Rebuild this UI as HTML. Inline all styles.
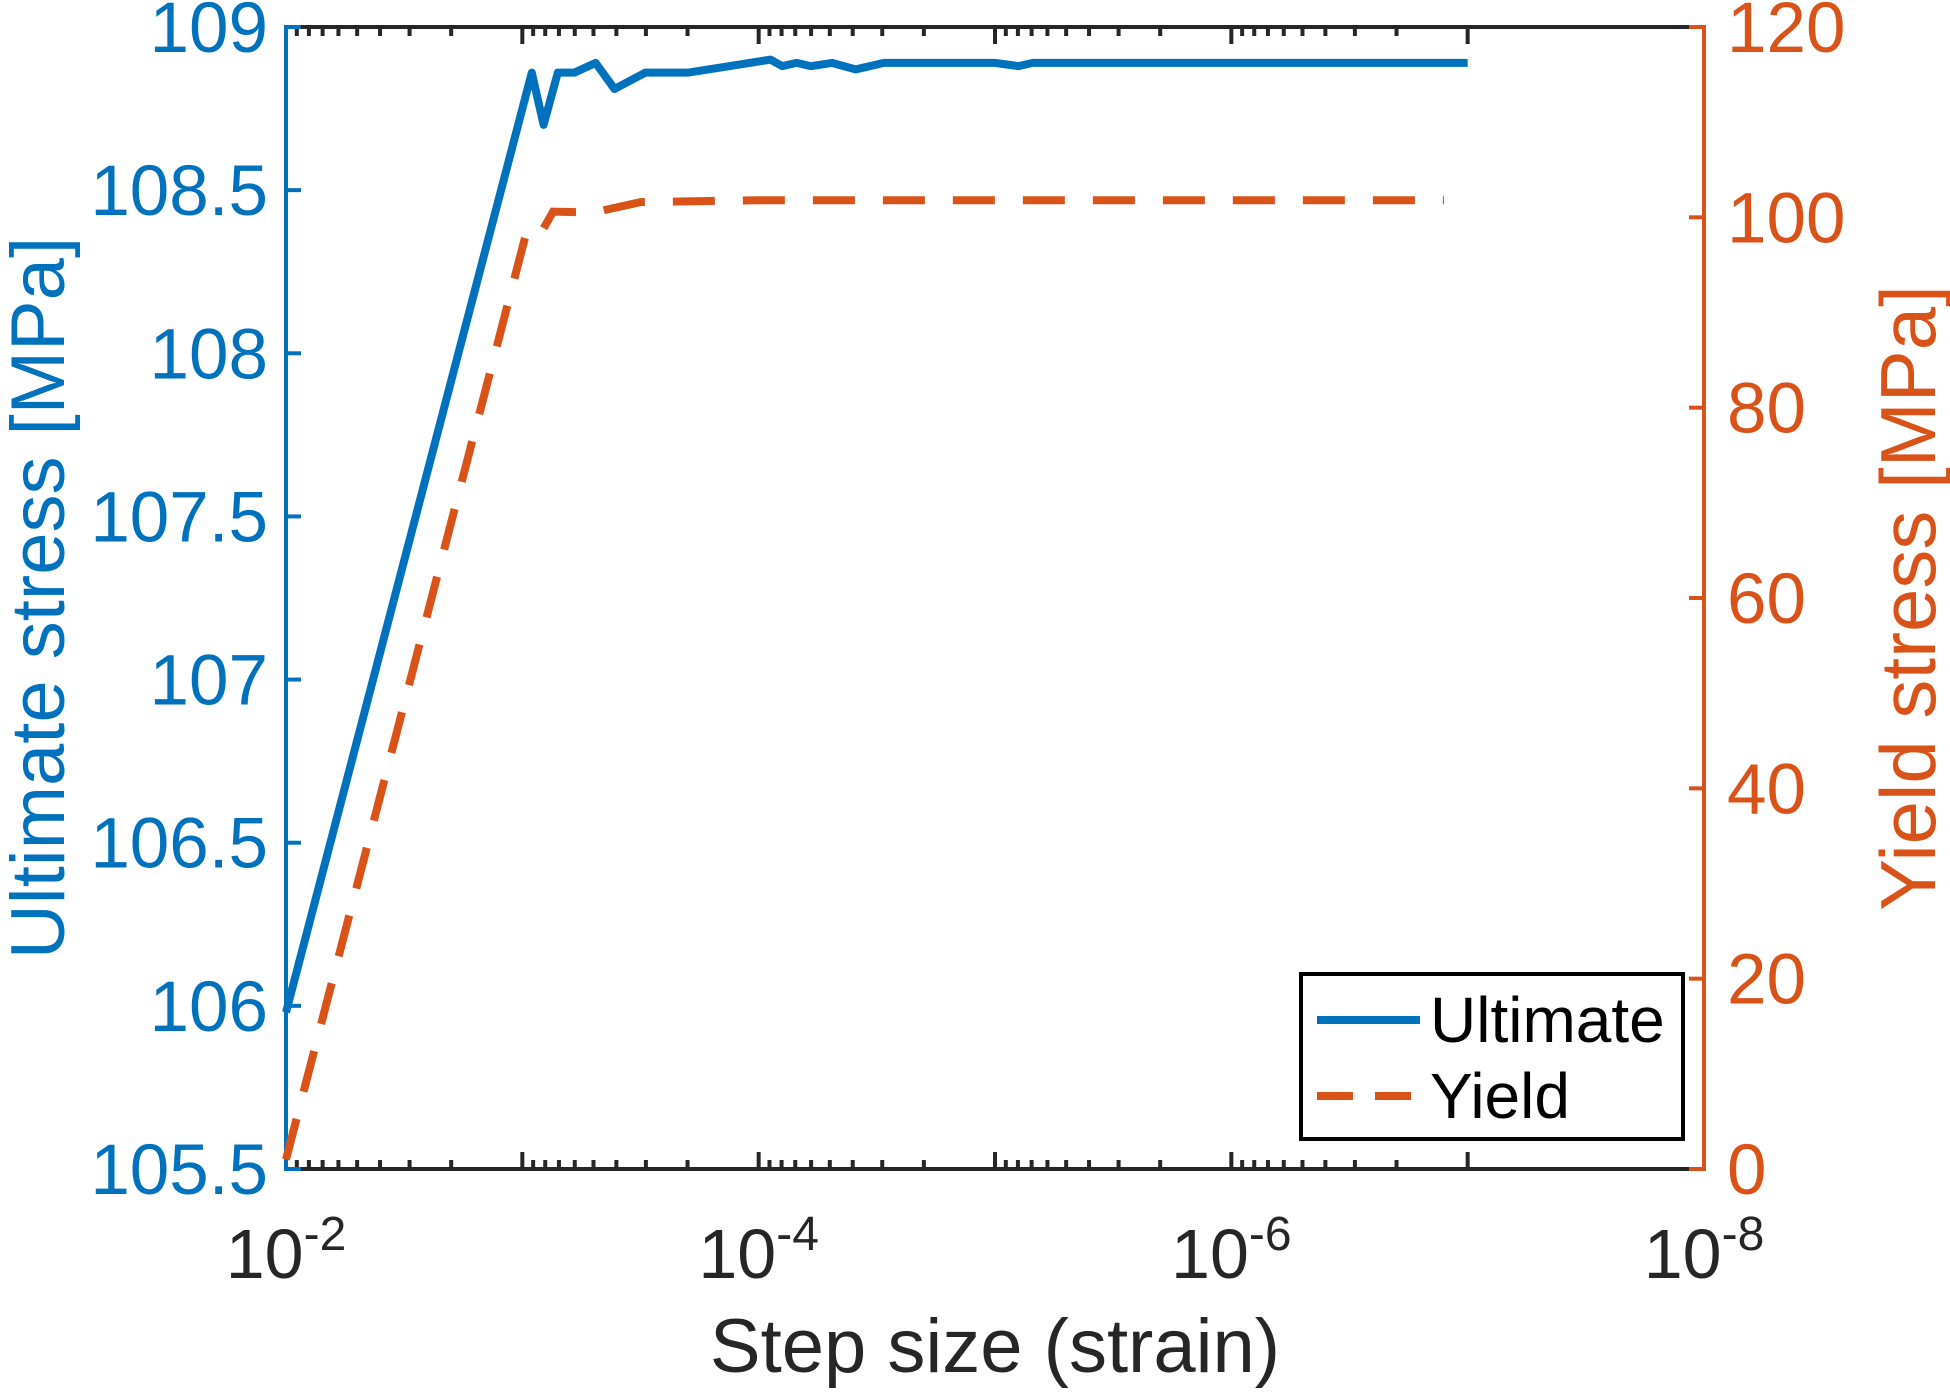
<!DOCTYPE html>
<html><head><meta charset="utf-8"><style>
html,body{margin:0;padding:0;background:#fff}
svg{display:block;font-family:"Liberation Sans",Arial,sans-serif}
</style></head><body>
<svg id="chart" width="1950" height="1393" viewBox="0 0 1950 1393" xmlns="http://www.w3.org/2000/svg">
<g id="axes"></g>
<g id="series"></g>
<g id="legend"></g>
</svg>
<script>
const ultExp = [-2.0,-3.04,-3.09,-3.15,-3.22,-3.31,-3.39,-3.52,-3.7,-4.05,-4.1,-4.16,-4.22,-4.31,-4.41,-4.53,-5.0,-5.1,-5.16,-5.5,-6.0,-7.0];
const ultVal = [105.98,108.86,108.70,108.86,108.86,108.89,108.81,108.86,108.86,108.90,108.88,108.89,108.88,108.89,108.87,108.89,108.89,108.88,108.89,108.89,108.89,108.89];
const yldExp = [-2.0,-3.02,-3.08,-3.13,-3.3,-3.5,-4.0,-4.5,-5.0,-6.0,-6.9];
const yldVal = [1.0,98.7,98.4,100.6,100.5,101.6,101.8,101.8,101.8,101.8,101.8];
const xTickExp = [-2,-4,-6,-8];
const leftTicks = [105.5,106,106.5,107,107.5,108,108.5,109];
const leftTickLabels = ["105.5","106","106.5","107","107.5","108","108.5","109"];
const rightTicks = [0,20,40,60,80,100,120];

const L=286,R=1704,T=27,B=1169;
const X=e=>L+(-2-e)/6*(R-L);
const YL=v=>B-(v-105.5)/3.5*(B-T);
const YR=v=>B-v/120*(B-T);
const NS="http://www.w3.org/2000/svg";
function mk(tag,attrs,parent,text){const el=document.createElementNS(NS,tag);for(const k in attrs)el.setAttribute(k,attrs[k]);if(text!==undefined)el.textContent=text;parent.appendChild(el);return el;}
const axes=document.getElementById('axes'),series=document.getElementById('series'),legend=document.getElementById('legend');
const blue="#0072BD",orange="#D95319",dark="#262626";

let el=mk('line',{x1:L,y1:T,x2:R,y2:T,stroke:dark,'stroke-width':4},axes);


el=mk('line',{x1:L,y1:B,x2:R,y2:B,stroke:dark,'stroke-width':4},axes);



for(let d=-2;d>=-8;d--){
  for(let m=1;m<=9;m++){
    if(d===-8 && m>1) continue;
    const e=d+Math.log10(m);
    if(e>-2) continue;
    const x=X(e);
    const len=m===1?17:9;
    el=mk('line',{x1:x,y1:B,x2:x,y2:B-len,stroke:dark,'stroke-width':4},axes);
    
    
    el=mk('line',{x1:x,y1:T,x2:x,y2:T+len,stroke:dark,'stroke-width':4},axes);
    
    
  }
}
xTickExp.forEach(e=>{
  const t=mk('text',{x:X(e),y:1278,'text-anchor':'middle','font-size':70,fill:dark},axes);
  
  
  mk('tspan',{},t,'10');
  mk('tspan',{dy:-28,'font-size':48},t,String(e));
});
el=mk('text',{x:(L+R)/2,y:1372,'text-anchor':'middle','font-size':76,fill:dark},axes,'Step size (strain)');



el=mk('line',{x1:L,y1:T-2,x2:L,y2:B+2,stroke:blue,'stroke-width':4},axes);


leftTicks.forEach((v,i)=>{
  const y=YL(v);
  let a=mk('line',{x1:L,y1:y,x2:L+15,y2:y,stroke:blue,'stroke-width':4},axes);
  
  
  a=mk('text',{x:268,y:y+25,'text-anchor':'end','font-size':71,fill:blue},axes,leftTickLabels[i]);
  
  
});
el=mk('text',{x:0,y:0,transform:'translate(64,598) rotate(-90)','text-anchor':'middle','font-size':76,fill:blue},axes,'Ultimate stress [MPa]');



el=mk('line',{x1:R,y1:T-2,x2:R,y2:B+2,stroke:orange,'stroke-width':4},axes);


rightTicks.forEach(v=>{
  const y=YR(v);
  let a=mk('line',{x1:R,y1:y,x2:R-15,y2:y,stroke:orange,'stroke-width':4},axes);
  
  
  a=mk('text',{x:1727,y:y+25,'text-anchor':'start','font-size':71,fill:orange},axes,String(v));
  
  
});
el=mk('text',{x:0,y:0,transform:'translate(1935,598) rotate(-90)','text-anchor':'middle','font-size':78,fill:orange},axes,'Yield stress [MPa]');



el=mk('polyline',{points:ultExp.map((e,i)=>X(e)+','+YL(ultVal[i])).join(' '),fill:'none',stroke:blue,'stroke-width':8,'stroke-linejoin':'round'},series);


el=mk('polyline',{points:yldExp.map((e,i)=>X(e)+','+YR(yldVal[i])).join(' '),fill:'none',stroke:orange,'stroke-width':8,'stroke-dasharray':'42,28'},series);



el=mk('rect',{x:1301,y:974,width:382,height:165,fill:'#fff',stroke:'#000','stroke-width':4},legend);


el=mk('line',{x1:1317,y1:1020,x2:1420,y2:1020,stroke:blue,'stroke-width':8},legend);


el=mk('text',{x:1430,y:1042,'font-size':64,fill:'#000'},legend,'Ultimate');


el=mk('line',{x1:1317,y1:1096,x2:1420,y2:1096,stroke:orange,'stroke-width':8,'stroke-dasharray':'36,22'},legend);


el=mk('text',{x:1430,y:1118,'font-size':64,fill:'#000'},legend,'Yield');


</script>
</body></html>
